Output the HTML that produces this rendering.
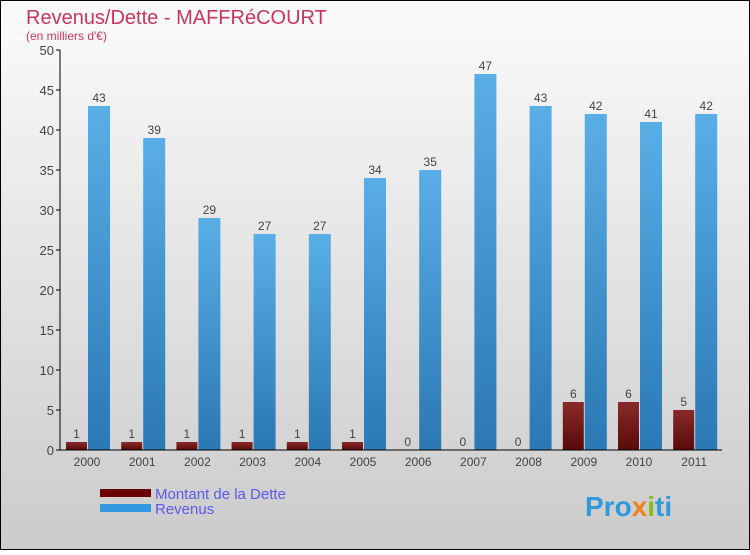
<!DOCTYPE html>
<html><head><meta charset="utf-8"><style>
body{margin:0;width:750px;height:550px;overflow:hidden;font-family:"Liberation Sans",sans-serif}
svg text{font-family:"Liberation Sans",sans-serif}
</style></head><body>
<svg id="c" width="750" height="550" xmlns="http://www.w3.org/2000/svg">
<defs>
<linearGradient id="bg" x1="0" y1="0" x2="0" y2="1"><stop offset="0" stop-color="#fbfbfb"/><stop offset="1" stop-color="#cbcbcb"/></linearGradient>
<linearGradient id="rv" x1="0" y1="0" x2="0" y2="1"><stop offset="0" stop-color="#5aaee6"/><stop offset="1" stop-color="#2a78b4"/></linearGradient>
<linearGradient id="dt" x1="0" y1="0" x2="0" y2="1"><stop offset="0" stop-color="#8a2a2a"/><stop offset="1" stop-color="#5a0a0a"/></linearGradient>
</defs>
<rect x="0.5" y="0.5" width="749" height="549" fill="url(#bg)" stroke="#000"/>
<text x="26" y="24" font-size="20" fill="#c8365e">Revenus/Dette - MAFFRéCOURT</text>
<text x="26" y="40" font-size="12" fill="#c8365e">(en milliers d'€)</text>
<g id="plot"></g>
<rect x="100" y="489" width="51" height="8" fill="#6a0000"/>
<text x="155" y="499" font-size="15" fill="#5a5aee">Montant de la Dette</text>
<rect x="100" y="504" width="51" height="8" fill="#3399e0"/>
<text x="155" y="514" font-size="15" fill="#5a5aee">Revenus</text>
<text x="585" y="516" font-size="28" font-weight="bold" fill="#3399dd">Pro<tspan fill="#f08020">x</tspan><tspan fill="#88bb22">i</tspan>ti</text>
</svg>
<script>
const years=["2000","2001","2002","2003","2004","2005","2006","2007","2008","2009","2010","2011"];
const dette=[1,1,1,1,1,1,0,0,0,6,6,5];
const revenus=[43,39,29,27,27,34,35,47,43,42,41,42];
const ticks=[0,5,10,15,20,25,30,35,40,45,50];
const NS="http://www.w3.org/2000/svg";
const g=document.getElementById("plot");
const y=v=>450-v*8, x=i=>87+i*55.2;
function mk(t,a,txt){const e=document.createElementNS(NS,t);for(const k in a)e.setAttribute(k,a[k]);if(txt!==undefined)e.textContent=txt;g.appendChild(e);return e;}
ticks.forEach(t=>{
 const l=mk("line",{x1:56,x2:60,y1:y(t),y2:y(t),stroke:"#000"});
 
 
 const tx=mk("text",{x:54,y:y(t)+5,"text-anchor":"end","font-size":13,fill:"#444"},t);
 
 
});
years.forEach((yr,i)=>{
 const cx=x(i);
 const d=mk("rect",{x:cx-21,y:y(dette[i]),width:21,height:dette[i]*8,fill:"url(#dt)"});
 
 
 const r=mk("rect",{x:cx+1,y:y(revenus[i]),width:22,height:revenus[i]*8,fill:"url(#rv)"});
 
 
 const dl=mk("text",{x:cx-10.5,y:y(dette[i])-4,"text-anchor":"middle","font-size":12,fill:"#444"},dette[i]);
 
 
 const rl=mk("text",{x:cx+12,y:y(revenus[i])-4,"text-anchor":"middle","font-size":12,fill:"#444"},revenus[i]);
 
 
 const xl=mk("text",{x:cx,y:466,"text-anchor":"middle","font-size":12,fill:"#444"},yr);
 
 
});
const ya=mk("line",{x1:60,x2:60,y1:50,y2:450,stroke:"#000"});


const xa=mk("line",{x1:60,x2:722,y1:450,y2:450,stroke:"#000"});


</script>
</body></html>
